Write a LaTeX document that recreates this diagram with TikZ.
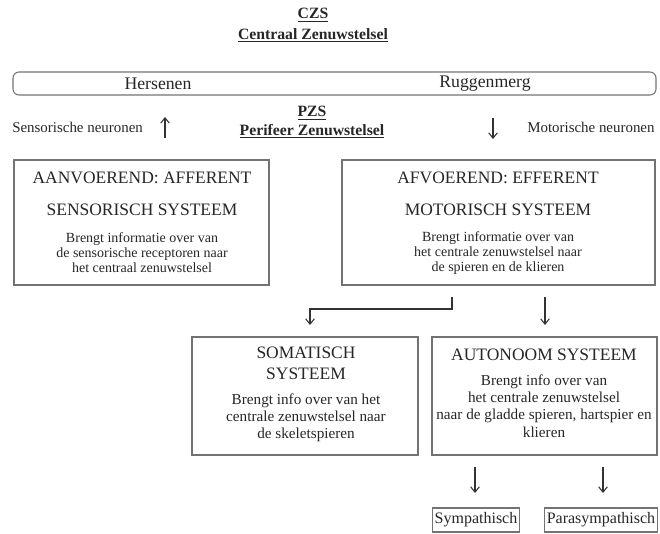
\documentclass[tikz,border=0pt]{standalone}
\usepackage{fontspec}
\setmainfont{Liberation Serif}
\usetikzlibrary{arrows.meta}

\tikzset{
  box/.style={draw=black!55, line width=0.8pt, inner sep=0pt},
  head/.style={text=black!85, font=\fontsize{13.1}{15.75}\selectfont, align=center},
  body/.style={text=black!85, font=\fontsize{10.5}{11.25}\selectfont, align=center},
  lowbody/.style={text=black!85, font=\fontsize{11.4}{12.9}\selectfont, align=center},
  label/.style={text=black!85, font=\fontsize{11.2}{13}\selectfont},
  title/.style={text=black!85, font=\bfseries\fontsize{11.8}{14}\selectfont},
  arr/.style={-{Straight Barb[length=4pt,width=6.5pt]}, line width=0.8pt, black!80},
}

\begin{document}
\begin{tikzpicture}[x=0.75pt,y=-0.75pt]
  \useasboundingbox (0,0) rectangle (660,534);

  % centraal zenuwstelsel
  \node[title] (czs) at (313,15) {\underline{CZS}};
  \node[title] (czsname) at (313,35) {\underline{Centraal Zenuwstelsel}};
  \node[box, rounded corners=4.5pt, minimum width=482.25pt, minimum height=17.25pt] (cns) at (334.5,83.5) {};
  \node[label, font=\fontsize{13.3}{15}\selectfont] (brain) at (158,84) {Hersenen};
  \node[label, font=\fontsize{13.3}{15}\selectfont] (cord) at (485,84) {Ruggenmerg};

  % perifeer zenuwstelsel
  \node[title] (pzs) at (312,113) {\underline{PZS}};
  \node[title] (pzsname) at (312,131) {\underline{Perifeer Zenuwstelsel}};
  \node[label, anchor=west, inner sep=0pt] (sensory) at (12,127) {Sensorische neuronen};
  \node[label, anchor=west, inner sep=0pt] (motor) at (527,127) {Motorische neuronen};
  \coordinate (sensbot) at (165,138);
  \coordinate (senstop) at (165,117);
  \coordinate (motortop) at (493,118);
  \coordinate (motorbot) at (493,139);
  \draw[arr] (sensbot) -- (senstop);
  \draw[arr] (motortop) -- (motorbot);

  % afferent
  \node[box, minimum width=191.25pt, minimum height=93.75pt] (afferent) at (141.5,222.5) {};
  \node[head] (afftitle) at (142,178) {AANVOEREND: AFFERENT};
  \node[head] (affsys) at (142,210) {SENSORISCH SYSTEEM};
  \node[body] (afftext) at (142,253) {Brengt informatie over van\\de sensorische receptoren naar\\het centraal zenuwstelsel};

  % efferent
  \node[box, minimum width=234.75pt, minimum height=93.75pt] (efferent) at (498.5,222.5) {};
  \node[head] (efftitle) at (498,178) {AFVOEREND: EFFERENT};
  \node[head] (effsys) at (498,210) {MOTORISCH SYSTEEM};
  \node[body] (efftext) at (498,253) {Brengt informatie over van\\het centrale zenuwstelsel naar\\de spieren en de klieren};

  % somatisch
  \node[box, minimum width=169.5pt, minimum height=88.5pt] (somatic) at (305,396) {};
  \node[head] (somtitle) at (306,363.5) {SOMATISCH\\SYSTEEM};
  \node[lowbody] (somtext) at (306,418) {Brengt info over van het\\centrale zenuwstelsel naar\\de skeletspieren};

  % autonoom
  \node[box, minimum width=168.75pt, minimum height=88.5pt] (autonomic) at (544.5,396) {};
  \node[head] (auttitle) at (544,355) {AUTONOOM SYSTEEM};
  \node[lowbody, font=\fontsize{11.4}{13}\selectfont] (auttext) at (544,406) {Brengt info over van\\het centrale zenuwstelsel\\naar de gladde spieren, hartspier en\\klieren};

  % sympathisch / parasympathisch
  \node[box, label, inner xsep=1.5pt, minimum height=18pt, font=\fontsize{12}{14}\selectfont] (sym) at (476,520) {Sympathisch};
  \node[box, label, inner xsep=1.5pt, minimum height=18pt, font=\fontsize{12}{14}\selectfont] (para) at (601,520) {Parasympathisch};

  % verbindingen
  \coordinate (split) at (452,297);
  \coordinate (bend) at (452,309);
  \coordinate (somtip) at (310,325);
  \coordinate (autstart) at (545,297);
  \coordinate (auttip) at (545,325);
  \coordinate (symstart) at (475,467);
  \coordinate (symtip) at (475,493);
  \coordinate (parastart) at (603,467);
  \coordinate (paratip) at (603,493);
  \draw[arr] (split) -- (bend) -| (somtip);
  \draw[arr] (autstart) -- (auttip);
  \draw[arr] (symstart) -- (symtip);
  \draw[arr] (parastart) -- (paratip);
\end{tikzpicture}
\end{document}
